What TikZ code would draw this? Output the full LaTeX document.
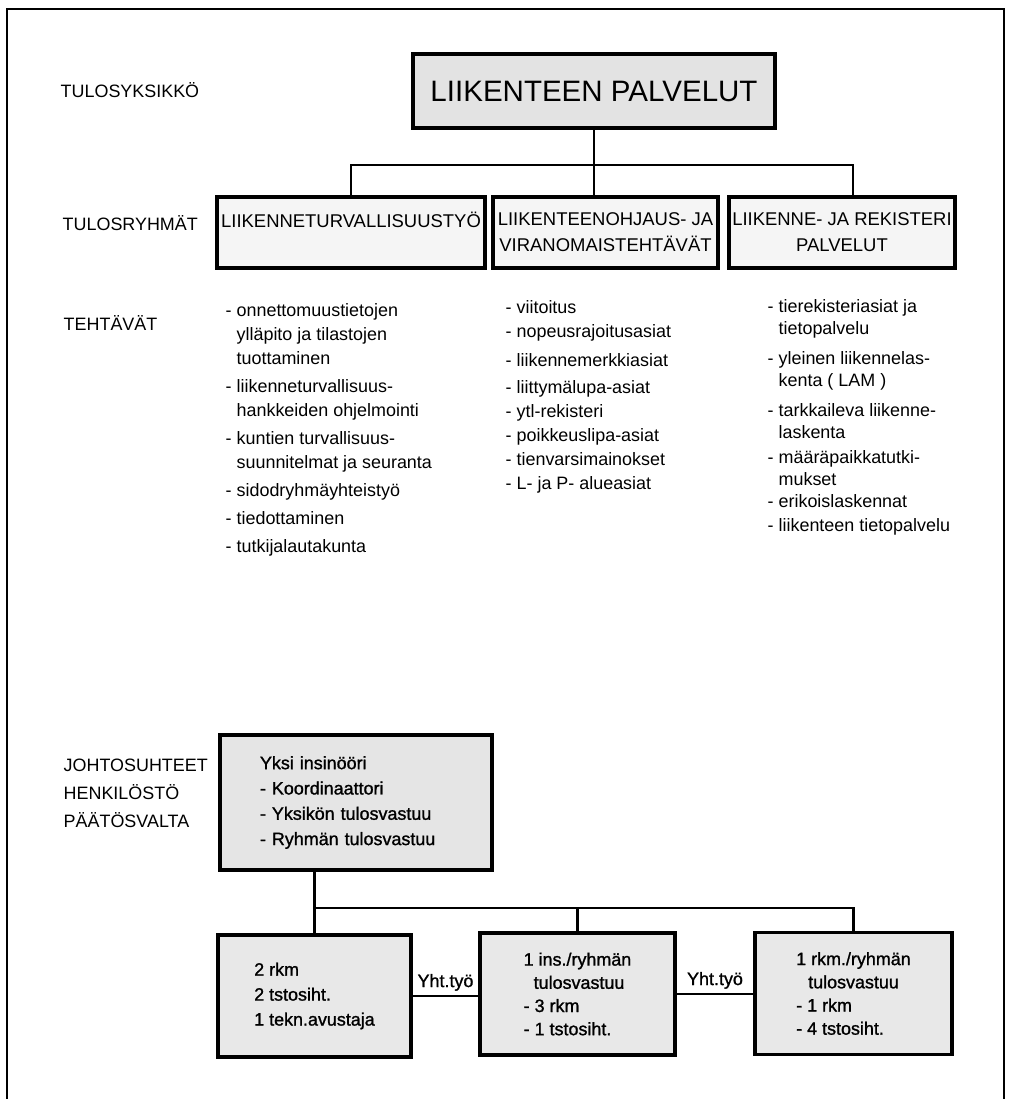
\documentclass[tikz,border=0pt]{standalone}
\usepackage{fontspec}
\setmainfont{Liberation Sans}
\newfontfamily\lihava{Liberation Sans}[FakeBold=1.2]
\usepackage{xcolor}
\usepackage{tikz}

\begin{document}
\begin{tikzpicture}[
  yksikko/.style={draw, line width=1.4pt, fill=gray!22, inner sep=0, font=\fontsize{8.4}{9}\selectfont},
  ryhma/.style={draw, line width=1pt, fill=gray!8, inner sep=0, minimum height=0.71cm, align=center, font=\fontsize{5.25}{7.4}\selectfont},
  henk/.style={draw, line width=1.1pt, fill=gray!18, inner sep=0, minimum height=1.22cm, align=left, font=\lihava\fontsize{5.1}{6.6}\selectfont},
  otsikko/.style={anchor=west, inner sep=0, font=\fontsize{5.1}{6}\selectfont},
  lista/.style={anchor=base west, inner sep=0, align=left},
  viiva/.style={line width=0.7pt}
]

\useasboundingbox (0,0) rectangle (10.17,10.99);

\draw[line width=0.5pt] (0.07,0)--(0.07,10.90)--(10.04,10.90)--(10.04,0);

\node[otsikko] (tulosyksikko) at (0.60,10.09) {TULOSYKSIKKÖ};
\node[yksikko, minimum width=3.62cm, minimum height=0.74cm] (palvelut) at (5.94,10.08) {LIIKENTEEN PALVELUT};

\node[otsikko] (tulosryhmat) at (0.62,8.76) {TULOSRYHMÄT};
\node[ryhma, minimum width=2.68cm] (turva) at (3.51,8.665) {LIIKENNETURVALLISUUSTYÖ\\ \phantom{X}};
\node[ryhma, minimum width=2.25cm] (ohjaus) at (6.055,8.665) {LIIKENTEENOHJAUS- JA\\VIRANOMAISTEHTÄVÄT};
\node[ryhma, minimum width=2.26cm] (rekisteri) at (8.42,8.665) {LIIKENNE- JA REKISTERI\\PALVELUT};

\coordinate (jako) at (5.94,9.34);
\draw[viiva] (palvelut.south) -- (palvelut.south |- ohjaus.north);
\draw[viiva] (turva.north) |- (jako) -| ([xshift=0.11cm]rekisteri.north);

\node[otsikko] (tehtavat) at (0.63,7.76) {TEHTÄVÄT};

\node[lista, font=\fontsize{5.1}{6.83}\selectfont] (tehtava1) at (2.25,5.46) {- onnettomuustietojen\\
\phantom{- }ylläpito ja tilastojen\\
\phantom{- }tuottaminen\\[0.04cm]
- liikenneturvallisuus-\\
\phantom{- }hankkeiden ohjelmointi\\[0.04cm]
- kuntien turvallisuus-\\
\phantom{- }suunnitelmat ja seuranta\\[0.04cm]
- sidodryhmäyhteistyö\\[0.04cm]
- tiedottaminen\\[0.04cm]
- tutkijalautakunta};

\node[lista, font=\fontsize{5.1}{6.83}\selectfont] (tehtava2) at (5.05,6.09) {- viitoitus\\
- nopeusrajoitusasiat\\[0.05cm]
- liikennemerkkiasiat\\[0.03cm]
- liittymälupa-asiat\\
- ytl-rekisteri\\
- poikkeuslipa-asiat\\
- tienvarsimainokset\\
- L- ja P- alueasiat};

\node[lista, font=\fontsize{5.1}{6.26}\selectfont] (tehtava3) at (7.67,5.67) {- tierekisteriasiat ja\\
\phantom{- }tietopalvelu\\[0.08cm]
- yleinen liikennelas-\\
\phantom{- }kenta ( LAM )\\[0.08cm]
- tarkkaileva liikenne-\\
\phantom{- }laskenta\\[0.03cm]
- määräpaikkatutki-\\
\phantom{- }mukset\\
- erikoislaskennat\\[0.02cm]
- liikenteen tietopalvelu};

\node[otsikko, anchor=base west, align=left, font=\fontsize{5.1}{8.1}\selectfont] (johtosuhteet) at (0.63,2.71) {JOHTOSUHTEET\\HENKILÖSTÖ\\PÄÄTÖSVALTA};

\node[henk, fill=gray!20, minimum width=2.72cm, minimum height=1.35cm, inner xsep=0.4cm, text width=1.92cm, font=\lihava\fontsize{5.1}{7.2}\selectfont] (insinoori) at (3.56,2.965) {Yksi insinööri\\- Koordinaattori\\- Yksikön tulosvastuu\\- Ryhmän tulosvastuu};

\node[henk, minimum width=1.93cm, font=\lihava\fontsize{5.1}{7.1}\selectfont] (alaA) at (3.145,1.03) {2 rkm\\2 tstosiht.\\1 tekn.avustaja};
\node[henk, minimum width=1.95cm] (alaB) at (5.775,1.05) {1 ins./ryhmän\\\hspace*{0.1cm}tulosvastuu\\- 3 rkm\\- 1 tstosiht.};
\node[henk, minimum width=1.97cm] (alaC) at (8.535,1.055) {1 rkm./ryhmän\\\hspace*{0.12cm}tulosvastuu\\- 1 rkm\\- 4 tstosiht.};

\coordinate (haara) at (5.0,1.91);
\draw[viiva] (insinoori.south -| alaA.north) -- (alaA.north);
\draw[viiva] (alaA.north |- haara) -| (alaC.north);
\draw[viiva] (haara -| alaB.north) -- (alaB.north);

\draw[viiva] (alaA.east) -- node[above, inner sep=0.04cm, font=\lihava\fontsize{5.1}{6}\selectfont] (yht1) {Yht.työ} (alaA.east -| alaB.west);
\draw[viiva] (alaB.east) -- node[above, inner sep=0.04cm, font=\lihava\fontsize{5.1}{6}\selectfont] (yht2) {Yht.työ} (alaB.east -| alaC.west);

\end{tikzpicture}
\end{document}
